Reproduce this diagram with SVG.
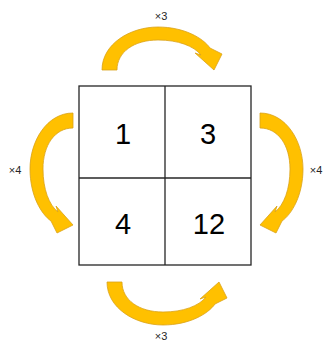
<svg xmlns="http://www.w3.org/2000/svg" xmlns:xlink="http://www.w3.org/1999/xlink" width="323" height="342" viewBox="0 0 323 342">
<style>
.arrow{fill:#FFC000;stroke:#D9A21B;stroke-width:0.8;stroke-linejoin:miter}
.grid{fill:none;stroke:#262626;stroke-width:1.3}
.num{font-family:"Liberation Sans",Arial,sans-serif;font-size:29px;fill:#000;text-anchor:middle}
.lbl{font-family:"Liberation Sans",Arial,sans-serif;font-size:11px;fill:#262626;text-anchor:middle}
</style>
<defs>
<path id="curved" d="M102,70 C102,44 130,27 158,27 C184,27 203,38 210,48 L222,54 L214,70 L195,53 L201,55 C194,46 178,40 158,40 C134,40 117,52 117,70 Z"/>
</defs>
<rect width="323" height="342" fill="#fff"/>
<g id="connectors">
<use xlink:href="#curved" href="#curved" class="arrow"/>
<use xlink:href="#curved" href="#curved" class="arrow" transform="matrix(0,1,1,0,3,11)"/>
<use xlink:href="#curved" href="#curved" class="arrow" transform="matrix(0,1,-1,0,330,11)"/>
<use xlink:href="#curved" href="#curved" class="arrow" transform="matrix(1,0,0,-1,5,352)"/>
<text class="lbl" x="161" y="20">×3</text>
<text class="lbl" x="15" y="174">×4</text>
<text class="lbl" x="316" y="174">×4</text>
<text class="lbl" x="161" y="340">×3</text>
</g>
<g id="grid">
<rect class="grid" x="79" y="86" width="172" height="179"/>
<line class="grid" x1="165" y1="86" x2="165" y2="265"/>
<line class="grid" x1="79" y1="178" x2="251" y2="178"/>
</g>
<g id="cell-1"><text class="num" x="123" y="144">1</text></g>
<g id="cell-3"><text class="num" x="208" y="144">3</text></g>
<g id="cell-4"><text class="num" x="123" y="234">4</text></g>
<g id="cell-12"><text class="num" x="209" y="234">12</text></g>
</svg>
